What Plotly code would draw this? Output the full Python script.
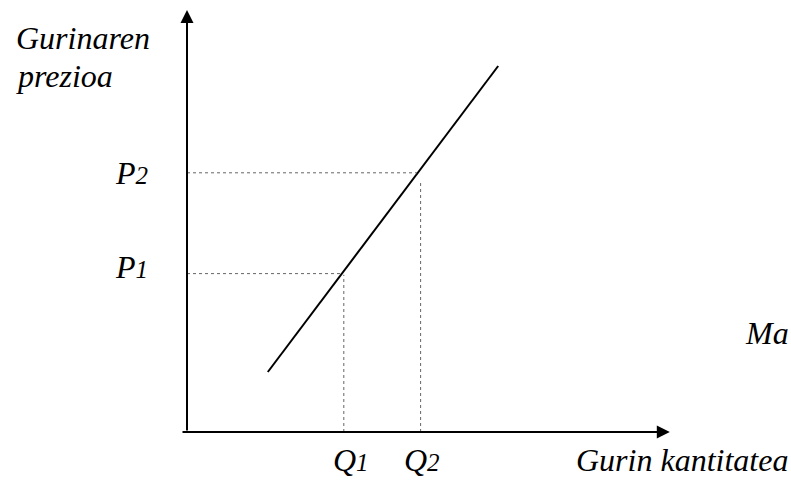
import plotly.graph_objects as go

# ---- data (economic units; 1 unit ~ 40 px) ----
supply_q = [2.02, 7.78]          # supply line quantity endpoints
supply_p = [1.50, 9.15]          # supply line price endpoints
q_levels = [3.92, 5.84]          # Q1, Q2
p_levels = [3.96, 6.48]          # P1, P2
h_dot_end = [3.88, 5.75]         # horizontal dotted guides end at these quantities
v_dot_top = [3.93, 6.30]         # vertical dotted guides end at these prices
q_labels = ["Q", "Q"]
p_labels = ["P", "P"]
subs = ["1", "2"]
x_axis_span = [-0.15, 12.07]
y_axis_span = [0.0, 10.55]

W, H = 791, 495
X0, Y0, S = 187, 432, 40.0
xr = [-X0 / S, (W - X0) / S]
yr = [-(H - Y0) / S, Y0 / S]

FONT = "Liberation Serif, Times New Roman, serif"
FS = 32
SUBFS = 25
P_SHIFT = [7, 0]
Q_SHIFT = [7, 1]

fig = go.Figure()

# supply line
fig.add_trace(go.Scatter(x=supply_q, y=supply_p, mode="lines",
                         line=dict(color="black", width=2), hoverinfo="skip"))

# dotted guides
for q, p, he, vt in zip(q_levels, p_levels, h_dot_end, v_dot_top):
    fig.add_trace(go.Scatter(x=[0, he], y=[p, p], mode="lines",
                             line=dict(color="#666666", width=1, dash="dot"), hoverinfo="skip"))
    fig.add_trace(go.Scatter(x=[q, q], y=[0, vt], mode="lines",
                             line=dict(color="#666666", width=1, dash="dot"), hoverinfo="skip"))

ann = []
# axes arrows
ann.append(dict(x=x_axis_span[1], y=0, ax=x_axis_span[0], ay=0, xref="x", yref="y",
                axref="x", ayref="y", showarrow=True, arrowhead=2, arrowsize=1.3,
                arrowwidth=2, arrowcolor="black", text=""))
ann.append(dict(x=0, y=y_axis_span[1], ax=0, ay=y_axis_span[0], xref="x", yref="y",
                axref="x", ayref="y", showarrow=True, arrowhead=2, arrowsize=1.3,
                arrowwidth=2, arrowcolor="black", text=""))

def lab(base, sub):
    return f"<i>{base}<span style=\"font-size:{SUBFS}px\">{sub}</span></i>"

# P labels
for p, b, s, sh in zip(p_levels, p_labels, subs, P_SHIFT):
    ann.append(dict(x=-1.85, y=p, xref="x", yref="y", xanchor="left", yanchor="middle",
                    yshift=sh, showarrow=False, text=lab(b, s),
                    font=dict(family=FONT, size=FS, color="black")))
# Q labels
for q, b, s, sh in zip(q_levels, q_labels, subs, Q_SHIFT):
    ann.append(dict(x=q, y=-0.7, xref="x", yref="y", xanchor="center", yanchor="middle",
                    xshift=sh, showarrow=False, text=lab(b, s),
                    font=dict(family=FONT, size=FS, color="black")))

# axis titles
ann.append(dict(x=14 / W, y=1 - 38 / H, xref="paper", yref="paper", xanchor="left",
                yanchor="middle", showarrow=False, text="<i>Gurinaren</i>",
                font=dict(family=FONT, size=FS, color="black")))
ann.append(dict(x=14 / W, y=1 - 76 / H, xref="paper", yref="paper", xanchor="left",
                yanchor="middle", showarrow=False, text="<i>prezioa</i>",
                font=dict(family=FONT, size=FS, color="black")))
ann.append(dict(x=574 / W, y=1 - 460 / H, xref="paper", yref="paper", xanchor="left",
                yanchor="middle", showarrow=False, text="<i>Gurin kantitatea</i>",
                font=dict(family=FONT, size=FS, color="black")))
ann.append(dict(x=743 / W, y=1 - 333 / H, xref="paper", yref="paper", xanchor="left",
                yanchor="middle", showarrow=False, text="<i>Ma</i>",
                font=dict(family=FONT, size=FS, color="black")))

fig.update_layout(
    width=W, height=H, margin=dict(l=0, r=0, t=0, b=0),
    paper_bgcolor="white", plot_bgcolor="white", showlegend=False,
    xaxis=dict(range=xr, visible=False, fixedrange=True),
    yaxis=dict(range=yr, visible=False, fixedrange=True),
    annotations=ann,
)

fig.write_html("out.html", config={"displayModeBar": False},
               post_script="document.body.style.margin='0';document.body.style.overflow='hidden';")
